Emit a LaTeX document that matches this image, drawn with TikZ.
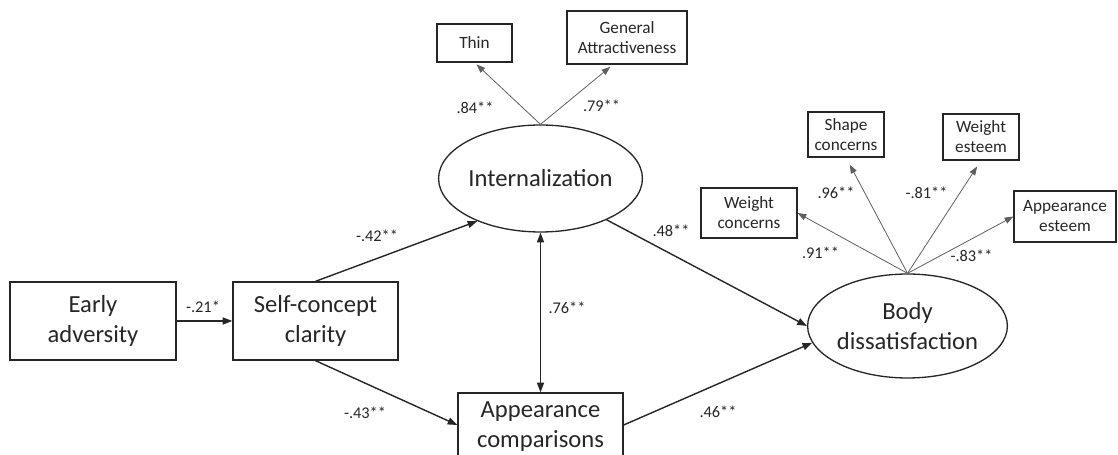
\documentclass[tikz,border=0pt]{standalone}
\usepackage{fontspec}
\setmainfont{Carlito}
\usetikzlibrary{arrows.meta,shapes.geometric}
\definecolor{ink}{HTML}{262626}
\definecolor{fine}{HTML}{5E5E5E}
\tikzset{
  latent/.style={
    shape = ellipse,
    draw = ink,
    line width = 0.75pt,
    inner sep = 0pt,
    align = center,
    text = ink,
    font = \fontsize{14}{17}\selectfont
  },
  observed/.style={
    shape = rectangle,
    draw = ink,
    line width = 0.75pt,
    inner sep = 0pt,
    align = center,
    text = ink,
    font = \fontsize{14}{17}\selectfont
  },
  indicator/.style={
    shape = rectangle,
    draw = ink,
    line width = 0.65pt,
    inner sep = 0pt,
    align = center,
    text = ink,
    font = \fontsize{9.8}{11.4}\selectfont
  },
}
\tikzset{
  effect/.style={
    draw = ink,
    line width = 0.8pt,
    -{Triangle[length=5.5pt,width=4pt]}
  },
  both/.style={
    {Triangle[length=5.5pt,width=4pt]}-{Triangle[length=5.5pt,width=4pt]}
  },
  loading/.style={
    draw = fine,
    line width = 0.45pt,
    -{Triangle[length=5pt,width=3.6pt]}
  },
  coef/.style={
    inner sep = 0pt,
    text = ink,
    font = \fontsize{9.3}{11}\selectfont
  }
}

\begin{document}
\begin{tikzpicture}[x=0.02cm,y=-0.02cm]
\useasboundingbox (0,0) rectangle (1118,455);
\clip (0,0) rectangle (1118,455);
% structural part
\node[observed, minimum width=3.32cm, minimum height=1.56cm] (ea) at (93,321) {Early\\adversity};
\node[observed, minimum width=3.3cm, minimum height=1.56cm] (scc) at (315.5,321) {Self-concept\\clarity};
\node[observed, minimum width=3.3cm, minimum height=1.36cm] (ac) at (540.5,427) {Appearance\\comparisons};
\node[latent, minimum width=3.34cm, minimum height=2.14cm] (int) at (540.5,178.5) {Internalization};
\node[latent, minimum width=3.94cm, minimum height=2.08cm] (bd) at (907.5,326) {Body\\dissatisfaction};
% measurement part
\node[indicator, minimum width=1.5cm, minimum height=0.76cm] (th) at (474.5,43) {Thin};
\node[indicator, minimum width=2.4cm, minimum height=1.06cm] (ga) at (627,37.5) {General\\Attractiveness};
\node[indicator, minimum width=1.52cm, minimum height=0.9cm] (sc) at (846,134.5) {Shape\\concerns};
\node[indicator, minimum width=1.52cm, minimum height=0.92cm] (we) at (981,137) {Weight\\esteem};
\node[indicator, minimum width=1.92cm, minimum height=1.0cm] (wc) at (749,213) {Weight\\concerns};
\node[indicator, minimum width=2.04cm, minimum height=1.02cm] (ae) at (1065,216.5) {Appearance\\esteem};

\draw[effect] (ea.east) -- (scc.west);
\draw[effect] (scc.north) -- (int.214);
\draw[effect] (scc.south) -- ([yshift=0.04cm]ac.west);
\draw[effect] (int.328) -- (bd.west);
\draw[effect] ([yshift=0.04cm]ac.east) -- (bd.190);
\draw[effect, both] (int.south) -- (ac.north);

\draw[loading, shorten >=1.5pt] (int.north) -- (th.south);
\draw[loading, shorten >=2pt] (int.north) -- ([xshift=-0.28cm]ga.south);
\foreach \ind/\gap in {wc.east/0pt, sc.south/4.5pt, we.south/4pt, ae.west/0pt}{
  \draw[loading, shorten >=\gap] (bd.north) -- (\ind); }

\foreach \n/\x/\y/\val in {c1/203/307/-.21*, c2/377/236/-.42**, c3/365/413/-.43**,
    c4/567/308/.76**, c5/671/231/.48**, c6/718/412/.46**,
    c7/475/108/.84**, c8/601.5/106/.79**, c9/836/193/.96**,
    c10/926.5/193/-.81**, c11/820.5/253/.91**, c12/971.5/256/-.83**}{
  \node[coef] (\n) at (\x,\y) {\val}; }
\end{tikzpicture}
\end{document}
